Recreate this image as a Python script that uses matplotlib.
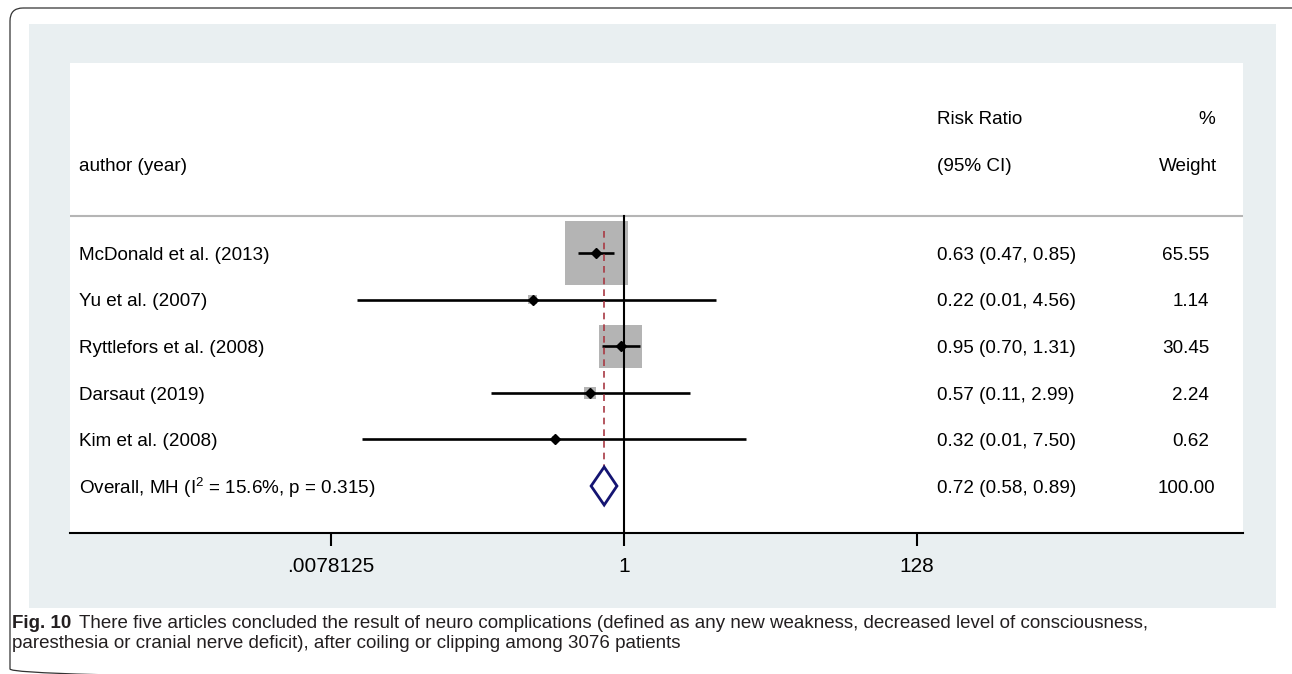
import matplotlib
matplotlib.use("Agg")
import matplotlib.pyplot as plt
import numpy as np
from matplotlib.patches import Rectangle, FancyBboxPatch, Polygon
from matplotlib.transforms import Affine2D, blended_transform_factory

plt.rcParams['font.family'] = ['Liberation Sans', 'DejaVu Sans']
plt.rcParams['mathtext.fontset'] = 'custom'
plt.rcParams['mathtext.rm'] = 'Liberation Sans'
plt.rcParams['mathtext.it'] = 'Liberation Sans'
plt.rcParams['mathtext.bf'] = 'Liberation Sans:bold'

# ---------------- data ----------------
studies = ["McDonald et al. (2013)", "Yu et al. (2007)", "Ryttlefors et al. (2008)",
           "Darsaut (2019)", "Kim et al. (2008)"]
rr = [0.63, 0.22, 0.95, 0.57, 0.32]
ci_lo = [0.47, 0.012, 0.70, 0.11, 0.013]
ci_hi = [0.85, 4.56, 1.31, 2.99, 7.50]
weights = [65.55, 1.14, 30.45, 2.24, 0.62]
ci_text = ["0.63 (0.47, 0.85)", "0.22 (0.01, 4.56)", "0.95 (0.70, 1.31)",
           "0.57 (0.11, 2.99)", "0.32 (0.01, 7.50)"]
weight_text = ["65.55", "1.14", "30.45", "2.24", "0.62"]

overall_label = r"Overall, MH (I$^{2}$ = 15.6%, p = 0.315)"
overall_rr = 0.72
overall_lo = 0.58
overall_hi = 0.89
overall_ci_text = "0.72 (0.58, 0.89)"
overall_weight_text = "100.00"

xtick_vals = [2.0 ** -7, 1.0, 2.0 ** 7]
xtick_labels = [".0078125", "1", "128"]

caption_bold = "Fig. 10"
caption_line1 = ("There five articles concluded the result of neuro complications (defined as any new "
                 "weakness, decreased level of consciousness,")
caption_line2 = "paresthesia or cranial nerve deficit), after coiling or clipping among 3076 patients"

# ---------------- figure ----------------
W, H = 1292, 674
fig = plt.figure(figsize=(W / 100, H / 100), dpi=100)
fig.patch.set_facecolor("white")
pix = Affine2D().scale(1, -1).translate(0, H)  # top-left origin pixel coords -> display

frame = FancyBboxPatch((10, 8), 1400, 674, boxstyle="round,pad=0,rounding_size=13",
                       transform=pix, facecolor="none", edgecolor="#333333", lw=0.9, zorder=-2)
fig.patches.append(frame)
panel = Rectangle((29, 24), 1247, 584, transform=pix, facecolor="#e9eff1", edgecolor="none",
                  zorder=-1)
fig.patches.append(panel)

x0, x1, ytop, ybot = 70, 1243, 63, 533
ax = fig.add_axes([x0 / W, 1 - ybot / H, (x1 - x0) / W, (ybot - ytop) / H])
ax.set_zorder(1)
ax.set_facecolor("white")
ax.set_xscale("log", base=2)
ppu = (917 - 331) / 14.0
ax.set_xlim(2 ** ((x0 - 624) / ppu), 2 ** ((x1 - 624) / ppu))
row_h = 46.6
ax.set_ylim((ybot - 253) / row_h, (ytop - 253) / row_h)

for s in ["top", "left", "right"]:
    ax.spines[s].set_visible(False)
ax.spines["bottom"].set_linewidth(1.5)
ax.set_yticks([])
ax.set_xticks(xtick_vals)
ax.set_xticklabels(xtick_labels, fontsize=15)
ax.xaxis.set_minor_locator(matplotlib.ticker.NullLocator())
ax.tick_params(axis="x", length=9, width=1.5, pad=8, color="black")

yrows = np.arange(len(studies))
y_over = len(studies)

# header separator
sep_y = (216 - 253) / row_h
ax.axhline(sep_y, color="#b5b5b5", lw=1.5)
# null line
ax.plot([1, 1], [sep_y, (ybot - 253) / row_h], color="black", lw=1.5, clip_on=False, zorder=2)
# overall dashed line
ax.plot([overall_rr, overall_rr], [(231 - 253) / row_h, (510 - 253) / row_h],
        color="#a83a44", lw=1.2, dashes=(4, 3), zorder=4)

# boxes
ax.scatter(rr, yrows, s=np.array(weights) * 31.4, marker="s", color="#b4b4b4",
           edgecolors="none", zorder=1)
# CI lines
for i in range(len(studies)):
    ax.plot([ci_lo[i], ci_hi[i]], [yrows[i], yrows[i]], color="black", lw=1.9,
            solid_capstyle="butt", zorder=3)
ax.plot(rr, yrows, linestyle="none", marker="D", ms=5.3, color="black", zorder=5)

# overall diamond
dh = 19 / row_h
diamond = Polygon([(overall_lo, y_over), (overall_rr, y_over - dh), (overall_hi, y_over),
                   (overall_rr, y_over + dh)], closed=True, facecolor="white",
                  edgecolor="#141472", lw=2, zorder=5)
ax.add_patch(diamond)

# text columns
tr = blended_transform_factory(ax.transAxes, ax.transData)
fx = lambda p: (p - x0) / (x1 - x0)
fs = 13.6
dy = 0.05
ax.text(fx(79), (164 - 253) / row_h + dy, "author (year)", transform=tr, fontsize=fs, va="center")
ax.text(fx(937), (117 - 253) / row_h + dy, "Risk Ratio", transform=tr, fontsize=fs, va="center")
ax.text(fx(937), (164 - 253) / row_h + dy, "(95% CI)", transform=tr, fontsize=fs, va="center")
ax.text(fx(1215), (117 - 253) / row_h + dy, "%", transform=tr, fontsize=fs, va="center", ha="right")
ax.text(fx(1217), (164 - 253) / row_h + dy, "Weight", transform=tr, fontsize=fs, va="center",
        ha="right")

for i in range(len(studies)):
    ax.text(fx(79), yrows[i] + dy, studies[i], transform=tr, fontsize=fs, va="center")
    ax.text(fx(937), yrows[i] + dy, ci_text[i], transform=tr, fontsize=fs, va="center")
    ax.text(fx(1209), yrows[i] + dy, weight_text[i], transform=tr, fontsize=fs, va="center",
            ha="right")
ax.text(fx(79), y_over + dy, overall_label, transform=tr, fontsize=fs, va="center")
ax.text(fx(937), y_over + dy, overall_ci_text, transform=tr, fontsize=fs, va="center")
ax.text(fx(1215), y_over + dy, overall_weight_text, transform=tr, fontsize=fs, va="center",
        ha="right")

# caption
cfs = 13.5
tb = fig.text(12 / W, 1 - 623 / H, caption_bold, fontsize=cfs, fontweight="bold",
              va="center", color="#231f20")
fig.canvas.draw()
bb = tb.get_window_extent()
fig.text((bb.x1 + 8) / W, 1 - 623 / H, caption_line1, fontsize=cfs,
         va="center", color="#231f20")
fig.text(12 / W, 1 - 644 / H, caption_line2, fontsize=cfs,
         va="center", color="#231f20")

fig.savefig("out.png", dpi=100, facecolor="white")
